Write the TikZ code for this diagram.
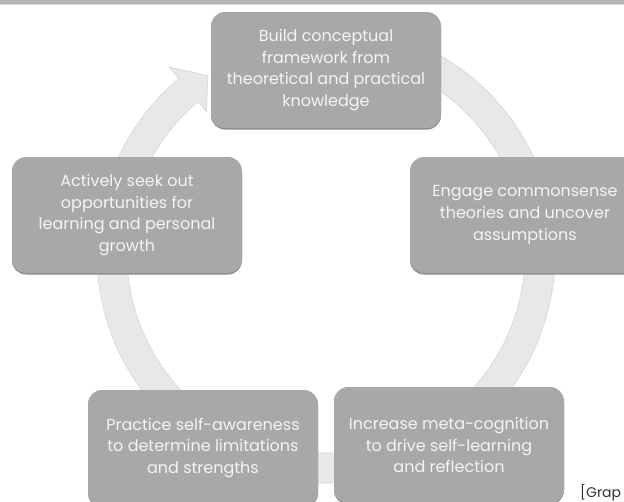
\documentclass[tikz,border=0pt]{standalone}
\usepackage{fontspec}
\setmainfont{Poppins}
\definecolor{boxgray}{HTML}{A8A8A8}
\definecolor{boxshadow}{HTML}{8C8C8C}
\definecolor{ringfill}{HTML}{E8E8E8}
\definecolor{ringedge}{HTML}{D4D4D4}
\definecolor{topbar}{HTML}{B5B5B5}
\definecolor{topline}{HTML}{DCDCDC}
\definecolor{boxtext}{HTML}{F4F4F4}
\definecolor{srctext}{HTML}{333333}
\begin{document}
\begin{tikzpicture}[x=1pt,y=-1pt,
  stepbox/.style={rectangle, rounded corners=14pt, fill=boxgray,
    minimum width=230pt, minimum height=116pt, text=boxtext, align=center,
    inner sep=0pt, font=\fontsize{16}{21.8}\selectfont,
    preaction={fill=boxshadow, transform canvas={yshift=-1.5pt}}},
  ringstyle/.style={fill=ringfill, draw=ringedge, line width=0.6pt}]
\useasboundingbox (0,0) rectangle (624,501);
\clip (0,0) rectangle (624,501);
\fill[white] (0,0) rectangle (624,501);
\fill[topbar] (0,0) rectangle (624,4);
\fill[topline] (0,4) rectangle (624,5.2);
% ring
\coordinate (c) at (326,254);
\path[ringstyle] ([shift={(c)}]-460:229) arc[start angle=-460, end angle=-130, radius=229]
  -- ([shift={(c)}]-130:244) -- ([shift={(c)}]-123.5:214) -- ([shift={(c)}]-130:186)
  -- ([shift={(c)}]-130:199) arc[start angle=-130, end angle=-460, radius=199] -- cycle;
% boxes
\node[stepbox] (build) at (326,70) {Build conceptual\\framework from\\theoretical and practical\\knowledge};
\node[stepbox] (engage) at (525,215) {Engage commonsense\\theories and uncover\\assumptions};
\node[stepbox] (increase) at (449,445) {Increase meta-cognition\\to drive self-learning\\and reflection};
\node[stepbox] (practice) at (203,448) {Practice self-awareness\\to determine limitations\\and strengths};
\node[stepbox] (seek) at (127,215) {Actively seek out\\opportunities for\\learning and personal\\growth};
\node[anchor=base west, inner sep=0pt, font=\fontsize{14}{16}\selectfont, text=srctext] (src) at (580,497) {[Grap};
\end{tikzpicture}
\end{document}
